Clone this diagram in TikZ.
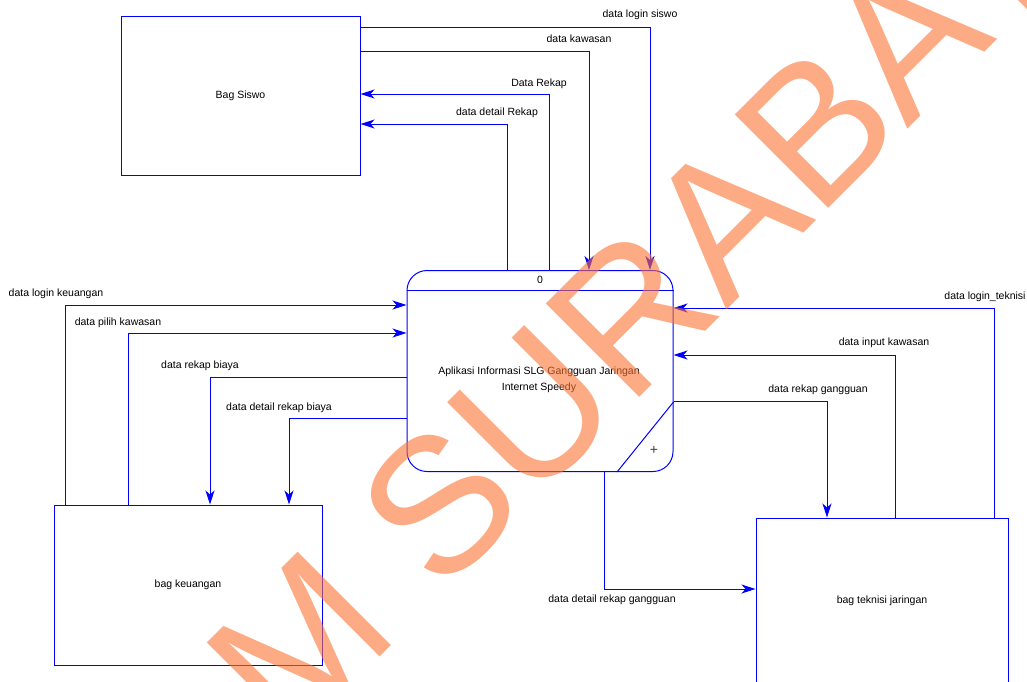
\documentclass[tikz,border=0pt]{standalone}
\usepackage{fontspec}
\setmainfont{Liberation Sans}
\usetikzlibrary{calc,positioning,arrows.meta}
\definecolor{dfdblue}{RGB}{0,0,255}
\definecolor{wmorange}{RGB}{250,115,50}

\tikzset{
	entity/.style={draw=dfdblue, line width=1pt, rectangle, inner sep=0pt, font=\fontsize{10.5}{12}\selectfont},
	process/.style={draw=dfdblue, line width=1pt, rectangle, rounded corners=20pt, minimum width=266pt, minimum height=201pt, inner sep=0pt},
	flow/.style={draw=dfdblue, line width=1pt, -{Stealth[length=14pt,width=9pt,inset=4pt]}},
	lbl/.style={font=\fontsize{10.5}{12}\selectfont, inner sep=0pt, text height=7.5pt, text depth=2pt},
}

\begin{document}
\begin{tikzpicture}[x=1pt, y=-1pt]
		\useasboundingbox (0,0) rectangle (1027,681);
		\clip (0,0) rectangle (1027,681);
		
		%------------------------------------------------
		% External entities
		%------------------------------------------------
		\node [entity, minimum width=239pt, minimum height=159pt] (siswo) at (240.5,95.5) {Bag Siswo};
		\node [entity, minimum width=268pt, minimum height=160pt] (keuangan) at (188,585) {bag keuangan};
		\node [entity, minimum width=252pt, minimum height=166pt] (teknisi) at (882,601) {bag teknisi jaringan};
		
		%------------------------------------------------
		% Process
		%------------------------------------------------
		\node [process] (proc) at (540,371) {};
		\draw [dfdblue, line width=1pt] (proc.west |- 0,290) -- (proc.east |- 0,290);
		\draw [dfdblue, line width=1pt] (proc.east |- 0,402) -- (617,0 |- proc.south);
		\node [lbl] (procnum) at (540,281) {0};
		\node [font=\fontsize{10.5}{16}\selectfont, align=center, inner sep=0pt] (proctext) at (539,380) {Aplikasi Informasi SLG Gangguan Jaringan\\Internet Speedy};
		\node [font=\fontsize{14}{14}\selectfont, text=black!75, inner sep=0pt] (plus) at (654,450) {+};
		
		%------------------------------------------------
		% Flows
		%------------------------------------------------
		\draw [flow] (siswo.east |- 0,27) -| (650,0 |- proc.north);
		\draw [flow] (siswo.east |- 0,51) -| (589,0 |- proc.north);
		\draw [flow] (549,0 |- proc.north) |- (siswo.east |- 0,94);
		\draw [flow] (507,0 |- proc.north) |- (siswo.east |- 0,124);
		
		\draw [flow] (65,0 |- keuangan.north) |- (proc.west |- 0,305);
		\draw [flow] (128,0 |- keuangan.north) |- (proc.west |- 0,333);
		\draw [flow] (proc.west |- 0,377) -| (210,0 |- keuangan.north);
		\draw [flow] (proc.west |- 0,418) -| (289,0 |- keuangan.north);
		
		\draw [flow] (994,0 |- teknisi.north) |- (proc.east |- 0,308);
		\draw [flow] (895,0 |- teknisi.north) |- (proc.east |- 0,355);
		\draw [flow] (proc.east |- 0,401) -| (827,0 |- teknisi.north);
		\draw [flow] (604,0 |- proc.south) |- (teknisi.west |- 0,589);
		
		%------------------------------------------------
		% Flow labels
		%------------------------------------------------
		\node [lbl] (lloginsiswo) at (640,15) {data login siswo};
		\node [lbl] (lkawasan) at (579,40) {data kawasan};
		\node [lbl] (lrekap) at (539,84) {Data Rekap};
		\node [lbl] (ldetailrekap) at (497,113) {data detail Rekap};
		
		\node [lbl] (lloginkeu) at (56,294) {data login keuangan};
		\node [lbl] (lpilih) at (118,323) {data pilih kawasan};
		\node [lbl] (lrekapbiaya) at (200,366) {data rekap biaya};
		\node [lbl] (ldetailbiaya) at (279,408) {data detail rekap biaya};
		
		\node [lbl] (llogintek) at (985,297) {data login\_teknisi};
		\node [lbl] (linput) at (884,343) {data input kawasan};
		\node [lbl] (lrekapgg) at (818,390) {data rekap gangguan};
		\node [lbl] (ldetailgg) at (612,600) {data detail rekap gangguan};
		
		%------------------------------------------------
		% Watermark
		%------------------------------------------------
		\node [font=\fontsize{192}{200}\selectfont, text=wmorange, text opacity=0.6, rotate=45, anchor=base west, inner sep=0pt] (wmark) at (-118,1155) {STIKOM SURABAYA};
		
\end{tikzpicture}
\end{document}
